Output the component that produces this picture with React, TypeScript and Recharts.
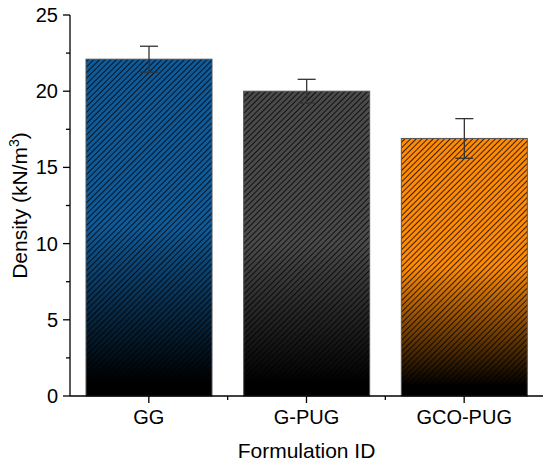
import { BarChart, Bar, XAxis, YAxis, ErrorBar } from 'recharts';

const categories = ['GG', 'G-PUG', 'GCO-PUG'];
const density = [22.1, 20.0, 16.9];
const densityErr = [0.85, 0.78, 1.3];
const barColors = ['#0f5a98', '#4a4a4a', '#ff8a05'];
const yTicks = [0, 2.5, 5, 7.5, 10, 12.5, 15, 17.5, 20, 22.5, 25];

const data = categories.map((name, i) => ({
  name,
  density: density[i],
  err: densityErr[i],
}));

const FONT = '"Liberation Sans", Arial, sans-serif';

const YTick = ({ x, y, payload }: any) => {
  const major = payload.value % 5 === 0;
  return (
    <g>
      <line x1={x} x2={x - (major ? 7 : 4)} y1={y} y2={y} stroke="#000" strokeWidth={1.3} />
      {major && (
        <text x={x - 12} y={y + 7} textAnchor="end" fontFamily={FONT} fontSize={20} fill="#000">
          {payload.value}
        </text>
      )}
    </g>
  );
};

const XTick = ({ x, y, payload, index }: any) => {
  const half = payload.offset || 78.8;
  return (
    <g>
      <line x1={x} x2={x} y1={y} y2={y + 7} stroke="#000" strokeWidth={1.3} />
      {index < categories.length - 1 && (
        <line x1={x + half} x2={x + half} y1={y} y2={y + 4} stroke="#000" strokeWidth={1.3} />
      )}
      <text x={x} y={y + 28} textAnchor="middle" fontFamily={FONT} fontSize={20} fill="#000">
        {payload.value}
      </text>
    </g>
  );
};

const HatchBar = (props: any) => {
  const { x, y, width, height, index } = props;
  if (!height || height <= 0) return null;
  const gid = `fade${index}`;
  return (
    <g>
      <defs>
        <linearGradient id={gid} x1="0" y1="0" x2="0" y2="1">
          <stop offset="0" stopColor={barColors[index]} />
          <stop offset="0.5" stopColor={barColors[index]} />
          <stop offset="0.96" stopColor="#000" />
          <stop offset="1" stopColor="#000" />
        </linearGradient>
      </defs>
      <rect x={x} y={y} width={width} height={height} fill={`url(#${gid})`} />
      <rect x={x} y={y} width={width} height={height} fill="url(#hatch)" />
      <rect x={x} y={y} width={width} height={height} fill="none" stroke="#555" strokeWidth={1} />
    </g>
  );
};

export default function App() {
  return (
    <div style={{ position: 'absolute', left: 0, top: 0, width: 550, height: 465, background: '#fff' }}>
      <svg width={0} height={0} style={{ position: 'absolute' }}>
        <defs>
          <pattern id="hatch" patternUnits="userSpaceOnUse" width={4} height={4} patternTransform="rotate(45)">
            <line x1={0} y1={0} x2={0} y2={4} stroke="#000" strokeOpacity={0.85} strokeWidth={1.8} />
          </pattern>
        </defs>
      </svg>
      <BarChart
        width={550}
        height={465}
        data={data}
        margin={{ top: 15, right: 7, left: 0, bottom: 0 }}
        barSize={126}
      >
        <XAxis
          dataKey="name"
          height={69}
          axisLine={{ stroke: '#000', strokeWidth: 1.3 }}
          tickLine={false}
          tickSize={0}
          tickMargin={0}
          tick={<XTick />}
          interval={0}
          label={{
            content: ({ viewBox }: any) => (
              <text
                x={viewBox.x + viewBox.width / 2}
                y={viewBox.y + 62}
                textAnchor="middle"
                fontFamily={FONT}
                fontSize={21}
                fill="#000"
              >
                Formulation ID
              </text>
            ),
          }}
        />
        <XAxis xAxisId="top" dataKey="name" orientation="top" height={0} tick={false} tickLine={false} axisLine={{ stroke: '#000', strokeWidth: 1.3 }} />
        <YAxis
          width={70}
          domain={[0, 25]}
          ticks={yTicks}
          interval={0}
          axisLine={{ stroke: '#000', strokeWidth: 1.3 }}
          tickLine={false}
          tickSize={0}
          tickMargin={0}
          tick={<YTick />}
          label={{
            content: ({ viewBox }: any) => {
              const cy = viewBox.y + viewBox.height / 2;
              const cx = viewBox.x + 27;
              return (
                <text
                  x={cx}
                  y={cy}
                  transform={`rotate(-90 ${cx} ${cy})`}
                  textAnchor="middle"
                  fontFamily={FONT}
                  fontSize={21}
                  fill="#000"
                >
                  <tspan>Density (kN/m</tspan>
                  <tspan dy={-8} fontSize={14}>3</tspan>
                  <tspan dy={8}>)</tspan>
                </text>
              );
            },
          }}
        />
        <YAxis yAxisId="right" orientation="right" width={0} domain={[0, 25]} tick={false} tickLine={false} axisLine={{ stroke: '#333', strokeWidth: 1.3 }} />
        <Bar dataKey="density" shape={<HatchBar />} isAnimationActive={false}>
          <ErrorBar dataKey="err" width={9} stroke="#333" strokeWidth={1.3} direction="y" />
        </Bar>
      </BarChart>
    </div>
  );
}
